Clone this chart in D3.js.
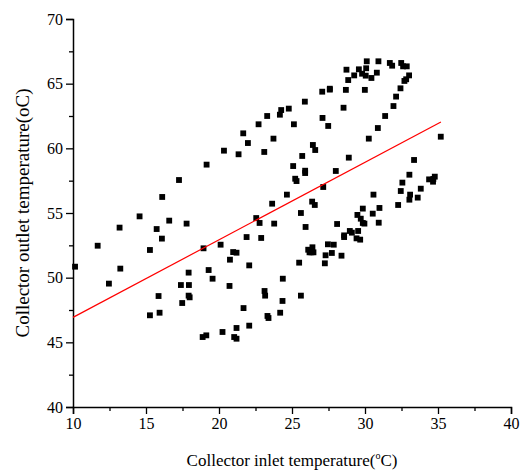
<!DOCTYPE html>
<html>
<head>
<meta charset="utf-8">
<script src="https://cdn.jsdelivr.net/npm/d3@7"></script>
<style>
  body { margin: 0; background: #fff; }
</style>
</head>
<body>
<div id="graph"></div>
<script>
// Measured points (inlet, outlet temperature)
const inletTemp = [
  10.14, 11.69, 12.46, 13.19, 13.24, 14.56, 15.27, 15.27, 15.73, 16.11,
  16.09, 15.86, 15.93, 16.59, 17.26, 17.39, 17.48, 17.78, 17.92, 17.94,
  17.92, 17.99, 18.94, 19.15, 18.88, 19.13, 19.29, 19.56, 20.11, 20.34,
  20.24, 20.72, 20.75, 20.97, 21.20, 21.04, 21.20, 21.20, 21.34, 21.66,
  21.68, 21.89, 21.98, 22.07, 22.07, 22.55, 22.71, 22.78, 22.89, 23.10,
  23.12, 23.16, 23.30, 23.32, 23.39, 23.64, 23.73, 23.78, 24.17, 24.26,
  24.19, 24.35, 24.37, 24.65, 24.78, 25.08, 25.13, 25.22, 25.31, 25.49,
  25.61, 25.61, 25.70, 25.88, 25.90, 25.90, 25.93, 26.11, 26.20, 26.33,
  26.40, 26.47, 26.38, 26.43, 26.59, 26.56, 27.07, 27.09, 27.14, 27.25,
  27.30, 27.46, 27.48, 27.59, 27.59, 27.73, 27.86, 28.00, 28.09, 28.39,
  28.53, 28.57, 28.57, 28.69, 28.73, 28.85, 28.89, 28.96, 29.10, 29.26,
  29.48, 29.53, 29.58, 29.42, 29.67, 29.71, 29.80, 29.85, 29.85, 29.96,
  29.99, 30.05, 30.08, 30.12, 30.26, 30.44, 30.53, 30.58, 30.81, 30.88,
  30.92, 30.94, 30.99, 31.38, 31.70, 31.86, 31.95, 32.13, 32.27, 32.43,
  32.45, 32.48, 32.56, 32.61, 32.70, 32.82, 32.86, 33.02, 33.04, 33.04,
  33.09, 33.36, 33.61, 33.82, 34.39, 34.66, 34.78, 34.68, 35.19
];
const outletTemp = [
  50.85, 52.47, 49.54, 53.87, 50.70, 54.74, 52.14, 47.09, 53.76, 56.24,
  53.02, 48.58, 47.29, 54.41, 57.55, 49.43, 48.04, 54.18, 50.39, 49.43,
  48.61, 48.48, 52.27, 58.74, 45.41, 45.54, 50.59, 49.92, 52.55, 59.82,
  45.80, 49.36, 51.39, 51.98, 51.93, 45.41, 45.28, 46.11, 59.54, 61.16,
  47.65, 53.14, 60.41, 50.95, 46.29, 54.61, 61.86, 54.23, 53.07, 59.72,
  48.97, 48.61, 62.50, 47.04, 46.88, 55.72, 60.75, 54.18, 62.60, 62.96,
  47.29, 48.20, 49.92, 56.42, 63.07, 58.63, 61.86, 57.65, 57.47, 51.16,
  55.00, 48.61, 59.41, 63.61, 58.27, 58.09, 53.92, 52.16, 51.96, 51.96,
  52.35, 51.96, 55.88, 60.26, 59.87, 55.62, 64.38, 62.35, 57.01, 51.11,
  51.73, 52.58, 61.73, 64.61, 64.54, 51.91, 52.55, 58.25, 54.15, 51.70,
  63.14, 53.27, 53.14, 64.52, 66.08, 65.28, 59.28, 53.61, 53.48, 65.64,
  54.85, 53.61, 66.11, 53.04, 52.94, 54.56, 65.77, 55.34, 54.23, 54.18,
  64.52, 65.62, 66.19, 66.73, 60.75, 65.44, 54.95, 56.42, 65.85, 61.57,
  66.73, 54.25, 55.39, 62.50, 66.60, 66.39, 63.27, 64.00, 55.62, 64.64,
  56.70, 66.60, 57.35, 66.34, 65.21, 65.34, 66.34, 65.64, 57.96, 56.03,
  56.42, 59.10, 56.19, 56.88, 57.60, 57.42, 57.81, 57.63, 60.90
];

// Linear fit end points
const fitX = [10, 35.2];
const fitY = [46.93, 62.04];

const xTicks = [10, 15, 20, 25, 30, 35, 40];
const yTicks = [40, 45, 50, 55, 60, 65, 70];
const xMinor = [12.5, 17.5, 22.5, 27.5, 32.5, 37.5];
const yMinor = [42.5, 47.5, 52.5, 57.5, 62.5, 67.5];

const serif = "'Liberation Serif', 'Times New Roman', Times, serif";

const width = 526, height = 474;
const margin = {top: 19, right: 15, bottom: 67, left: 73};

const xscale = d3.scaleLinear().domain([10, 40]).range([margin.left, width - margin.right]);
const yscale = d3.scaleLinear().domain([40, 70]).range([height - margin.bottom, margin.top]);

const svg = d3.select("#graph").append("svg")
  .attr("width", width)
  .attr("height", height)
  .style("font-family", serif);

// minor ticks first, so major axis draws over them
svg.append("g")
  .attr("transform", "translate(0," + (height - margin.bottom) + ")")
  .call(d3.axisBottom(xscale).tickValues(xMinor).tickSize(4).tickFormat(""))
  .call(g => g.select(".domain").remove())
  .selectAll("line").attr("stroke-width", 1.3);

svg.append("g")
  .attr("transform", "translate(" + margin.left + ",0)")
  .call(d3.axisLeft(yscale).tickValues(yMinor).tickSize(4).tickFormat(""))
  .call(g => g.select(".domain").remove())
  .selectAll("line").attr("stroke-width", 1.3);

const xAxis = svg.append("g")
  .attr("transform", "translate(0," + (height - margin.bottom) + ")")
  .call(d3.axisBottom(xscale).tickValues(xTicks).tickSizeOuter(0).tickSize(7).tickPadding(4));

const yAxis = svg.append("g")
  .attr("transform", "translate(" + margin.left + ",0)")
  .call(d3.axisLeft(yscale).tickValues(yTicks).tickSizeOuter(0).tickSize(7).tickPadding(3));

[xAxis, yAxis].forEach(a => {
  a.attr("font-family", null);
  a.select(".domain").attr("stroke-width", 1.5);
  a.selectAll(".tick line").attr("stroke-width", 1.3);
  a.selectAll("text")
    .style("font-family", serif)
    .attr("font-size", 16)
    .attr("fill", "#000");
});

// data squares
svg.append("g").selectAll("path")
  .data(inletTemp.map((x, i) => [x, outletTemp[i]]))
  .enter()
  .append("path")
  .attr("transform", d => "translate(" + xscale(d[0]) + "," + yscale(d[1]) + ")")
  .attr("d", d3.symbol(d3.symbolSquare, 34))
  .attr("fill", "#000");

// fitted line
svg.append("path")
  .datum(fitX.map((x, i) => [x, fitY[i]]))
  .attr("d", d3.line().x(d => xscale(d[0])).y(d => yscale(d[1])))
  .attr("stroke", "#ff0000")
  .attr("stroke-width", 1.2)
  .attr("fill", "none");

// axis titles
const xTitle = svg.append("text")
  .attr("x", 292)
  .attr("y", 466)
  .attr("text-anchor", "middle")
  .attr("font-size", 17)
  .attr("fill", "#000")
  .style("font-family", serif)
  .text("Collector inlet temperature(");
xTitle.append("tspan").attr("dy", -7).attr("font-size", 10).text("o");
xTitle.append("tspan").attr("dy", 7).text("C)");

svg.append("text")
  .attr("transform", "translate(29," + 213 + ") rotate(-90)")
  .attr("text-anchor", "middle")
  .attr("font-size", 19)
  .attr("fill", "#000")
  .style("font-family", serif)
  .text("Collector outlet temperature(oC)");
</script>
</body>
</html>
